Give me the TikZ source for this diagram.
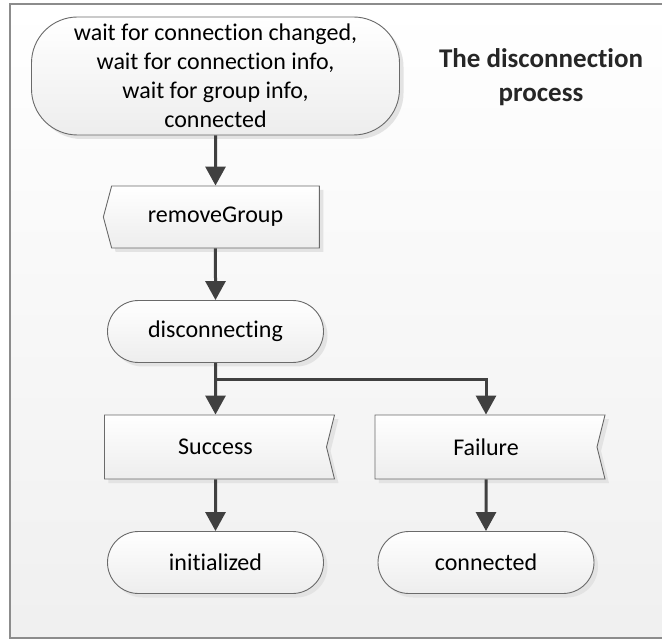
\documentclass[tikz,border=0pt]{standalone}
\usepackage{fontspec}
\setmainfont{Carlito}[Ligatures=NoCommon]
\usetikzlibrary{arrows.meta,shadows,shapes.symbols}

\definecolor{flowgray}{HTML}{404040}
\definecolor{edgegray}{HTML}{6A6A6A}
\definecolor{framegray}{HTML}{8C8C8C}
\definecolor{titlegray}{HTML}{262626}

\tikzset{
  boxbase/.style={draw=edgegray, line width=0.9pt, top color=white, bottom color=black!7,
    inner sep=0pt, text=black, align=center,
    drop shadow={shadow xshift=4pt, shadow yshift=-4pt, fill=black!11, opacity=1}},
  stateterm/.style={boxbase, rectangle, rounded corners=31pt, minimum width=216pt, minimum height=62pt},
  sendsig/.style={boxbase, signal, signal to=west, signal from=nowhere, signal pointer angle=150,
    minimum width=216pt, minimum height=62pt},
  recvsig/.style={boxbase, signal, signal to=nowhere, signal from=east, signal pointer angle=152,
    minimum width=230pt, minimum height=64pt},
  flow/.style={draw=flowgray, line width=3pt, -{Triangle[length=19pt,width=20pt]}},
}

\begin{document}
\begin{tikzpicture}[x=1pt, y=-1pt, font=\fontsize{24}{29}\selectfont]
  \useasboundingbox (0,0) rectangle (662,639);
  % panel
  \draw[framegray, line width=1.2pt, top color=white, bottom color=black!6] (10,4) rectangle (668,638);

  % states and signals
  \node[boxbase, rectangle, rounded corners=46pt, minimum width=368pt, minimum height=118pt]
    (start) at (215.5,76) {wait for connection changed,\\wait for connection info,\\wait for group info,\\connected};
  \node[sendsig] (rg) at (215.5,217) {removeGroup};
  \node[stateterm] (disc) at (215.5,331.5) {disconnecting};
  \node[recvsig] (succ) at (215.5,447) {Success};
  \node[recvsig] (fail) at (486,447) {Failure};
  \node[stateterm] (init) at (215.5,562.5) {initialized};
  \node[stateterm] (conn) at (486,562.5) {connected};

  % heading
  \node[font=\fontsize{27}{34}\selectfont\bfseries, text=titlegray, align=center]
    (title) at (541,77) {The disconnection\\process};

  % connectors
  \coordinate (split) at (215.5,379);
  \draw[flow] (start) -- (rg);
  \draw[flow] (rg) -- (disc);
  \draw[flow] (disc) -- (succ);
  \draw[flow] (split) -| (fail);
  \draw[flow] (succ) -- (init);
  \draw[flow] (fail) -- (conn);
\end{tikzpicture}
\end{document}
